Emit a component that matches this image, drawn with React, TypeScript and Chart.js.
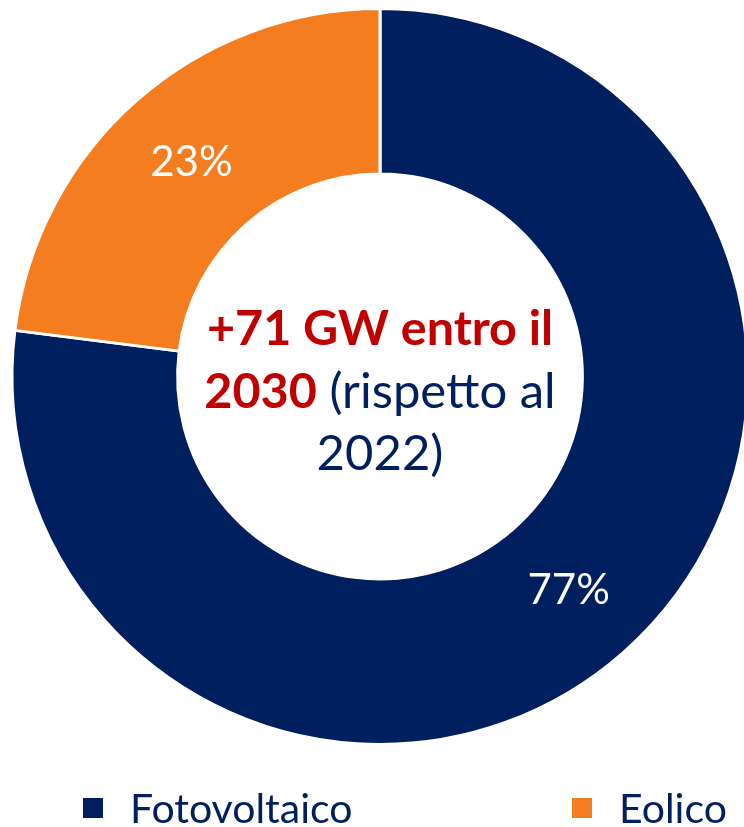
import React, { useEffect, useRef } from "react";
import { Chart, registerables } from "chart.js";

Chart.register(...registerables);

const categories = ["Fotovoltaico", "Eolico"];
const shares = [77, 23];
const sliceColors = ["#001F5F", "#F47D20"];
const centerLines: { text: string; bold: boolean; color: string }[][] = [
  [{ text: "+71 GW entro il", bold: true, color: "#C00000" }],
  [
    { text: "2030", bold: true, color: "#C00000" },
    { text: " (rispetto al", bold: false, color: "#001F5F" },
  ],
  [{ text: "2022)", bold: false, color: "#001F5F" }],
];
const legendX = [83, 572];

const FONT = "Lato, 'Noto Sans', sans-serif";

const labelsPlugin = {
  id: "sliceLabels",
  afterDatasetsDraw(chart: any) {
    const ctx = chart.ctx;
    const meta = chart.getDatasetMeta(0);
    ctx.save();
    ctx.fillStyle = "#FFFFFF";
    ctx.font = `400 42px ${FONT}`;
    ctx.textAlign = "center";
    ctx.textBaseline = "middle";
    meta.data.forEach((arc: any, i: number) => {
      const p = arc.tooltipPosition();
      ctx.fillText(`${shares[i]}%`, p.x, p.y);
    });

    // center text
    const cx = (chart.chartArea.left + chart.chartArea.right) / 2;
    const baseY = 345;
    const lh = 62.5;
    const fontFor = (bold: boolean) => `${bold ? 700 : 400} ${bold ? 48.5 : 49}px ${FONT}`;
    ctx.textAlign = "left";
    ctx.textBaseline = "alphabetic";
    centerLines.forEach((line, li) => {
      let total = 0;
      const widths = line.map((seg) => {
        ctx.font = fontFor(seg.bold);
        const w = ctx.measureText(seg.text).width;
        total += w;
        return w;
      });
      let x = cx - total / 2;
      line.forEach((seg, si) => {
        ctx.font = fontFor(seg.bold);
        ctx.fillStyle = seg.color;
        ctx.fillText(seg.text, x, baseY + li * lh);
        x += widths[si];
      });
    });

    // legend
    ctx.font = `400 41px ${FONT}`;
    categories.forEach((c, i) => {
      ctx.fillStyle = sliceColors[i];
      ctx.fillRect(legendX[i], 798, 20, 20);
      ctx.fillStyle = "#001F5F";
      ctx.fillText(c, legendX[i] + 47, 823);
    });
    ctx.restore();
  },
};

export default function App() {
  const ref = useRef<HTMLCanvasElement | null>(null);
  useEffect(() => {
    if (!ref.current) return;
    const chart = new Chart(ref.current, {
      type: "doughnut",
      data: {
        labels: categories,
        datasets: [
          {
            data: shares,
            backgroundColor: sliceColors,
            borderColor: "#FFFFFF",
            borderWidth: 3,
            hoverOffset: 0,
          },
        ],
      },
      options: {
        responsive: false,
        animation: false,
        cutout: "55%",
        layout: { padding: { top: 7, bottom: 81, left: 10.5, right: 10.5 } },
        plugins: {
          legend: { display: false },
          tooltip: { enabled: false },
        },
      },
      plugins: [labelsPlugin],
    });
    return () => chart.destroy();
  }, []);
  return (
    <div
      style={{
        position: "fixed",
        left: 0,
        top: 0,
        width: 744,
        height: 827,
        overflow: "hidden",
        background: "#FFFFFF",
      }}
    >
      <canvas ref={ref} width={760} height={827} style={{ display: "block" }} />
    </div>
  );
}
